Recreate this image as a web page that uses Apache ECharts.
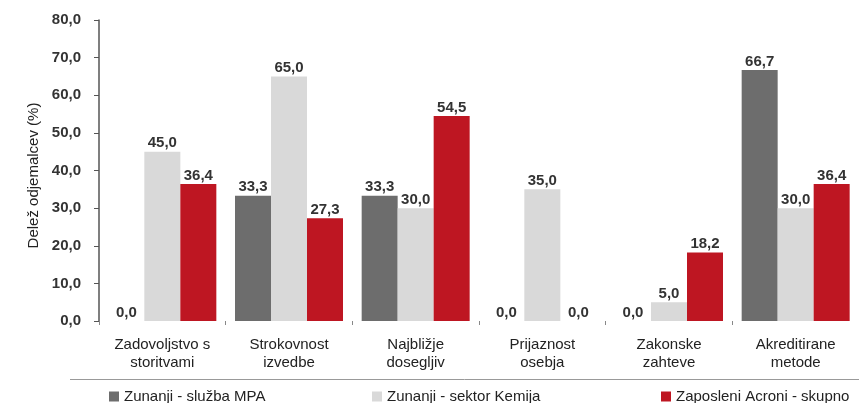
<!DOCTYPE html>
<html>
<head>
<meta charset="utf-8">
<script src="https://cdn.jsdelivr.net/npm/echarts@6/dist/echarts.min.js"></script>
<style>
html,body{margin:0;padding:0;background:#fff;}
#main{width:859px;height:403px;}
</style>
</head>
<body>
<div id="main"></div>
<script>
var kategorije = ['Zadovoljstvo s\nstoritvami', 'Strokovnost\nizvedbe', 'Najbližje\ndosegljiv', 'Prijaznost\nosebja', 'Zakonske\nzahteve', 'Akreditirane\nmetode'];
var imena = ['Zunanji - služba MPA', 'Zunanji - sektor Kemija', 'Zaposleni Acroni - skupno'];
var sluzbaMPA = [0.0, 33.3, 33.3, 0.0, 0.0, 66.7];
var sektorKemija = [45.0, 65.0, 30.0, 35.0, 5.0, 30.0];
var acroniSkupno = [36.4, 27.3, 54.5, 0.0, 18.2, 36.4];
var barve = ['#6d6d6d', '#d9d9d9', '#be1622'];

var pisava = '"Liberation Sans", Arial, sans-serif';

function vejica(v) {
	return Number(v).toFixed(1).replace('.', ',');
}

function serija(ime, podatki, barva) {
	return {
		name: ime,
		type: 'bar',
		barWidth: 36,
		barGap: '0%',
		data: podatki,
		itemStyle: { color: barva },
		label: {
			show: true,
			position: 'top',
			distance: 1,
			color: '#333',
			fontFamily: pisava,
			fontSize: 15,
			fontWeight: 'bold',
			formatter: function (p) { return vejica(p.value); }
		}
	};
}

function legenda(i, levo) {
	return {
		left: levo,
		top: 384,
		data: [imena[i]],
		icon: 'rect',
		itemWidth: 10,
		itemHeight: 10,
		itemGap: 4,
		selectedMode: false,
		textStyle: { color: '#222', fontFamily: pisava, fontSize: 15 }
	};
}

var myChart = echarts.init(document.getElementById('main'));
var option = {
	backgroundColor: '#fff',
	animation: false,
	grid: { left: 99, top: 20, width: 774, height: 301 },
	legend: [legenda(0, 104), legenda(1, 367), legenda(2, 656)],
	xAxis: {
		type: 'category',
		data: kategorije,
		axisLine: { show: false },
		axisTick: { show: true, length: 4, lineStyle: { color: '#888' } },
		axisLabel: {
			color: '#222',
			fontFamily: pisava,
			fontSize: 15,
			lineHeight: 18,
			margin: 15,
			interval: 0
		}
	},
	yAxis: {
		type: 'value',
		min: 0,
		max: 80,
		interval: 10,
		name: 'Delež odjemalcev (%)',
		nameLocation: 'middle',
		nameGap: 58,
		nameRotate: 90,
		nameTextStyle: { color: '#222', fontFamily: pisava, fontSize: 15, padding: [0, 10, 0, 0] },
		axisLine: { show: true, lineStyle: { color: '#555', width: 1.5 } },
		axisTick: { show: true, length: 5, lineStyle: { color: '#555' } },
		splitLine: { show: false },
		axisLabel: {
			color: '#333',
			fontFamily: pisava,
			fontSize: 15,
			fontWeight: 'bold',
			margin: 18,
			formatter: function (v) { return vejica(v); }
		}
	},
	graphic: [{
		type: 'line',
		shape: { x1: 70, y1: 379.5, x2: 859, y2: 379.5 },
		style: { stroke: '#999', lineWidth: 1 }
	}],
	series: [
		serija(imena[0], sluzbaMPA, barve[0]),
		serija(imena[1], sektorKemija, barve[1]),
		serija(imena[2], acroniSkupno, barve[2])
	]
};
option && myChart.setOption(option);
</script>
</body>
</html>
